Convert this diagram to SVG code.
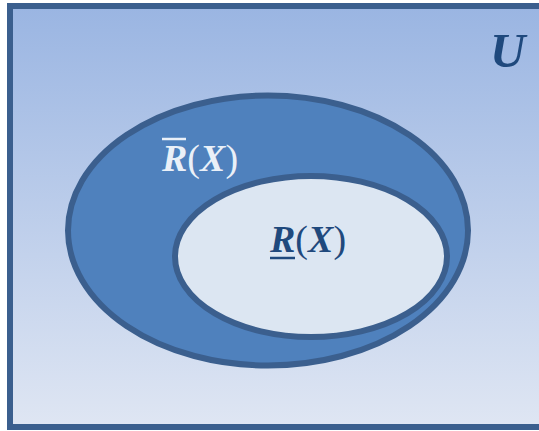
<svg xmlns="http://www.w3.org/2000/svg" width="539" height="431" viewBox="0 0 539 431">
  <defs>
    <linearGradient id="bg" x1="0" y1="0" x2="0" y2="1">
      <stop offset="0" stop-color="#9ab5e2"/>
      <stop offset="1" stop-color="#dfe6f3"/>
    </linearGradient>
  </defs>
  <style>
    .edge { stroke: #3b5f8e; stroke-width: 6; }
    .lbl { font-family: "Liberation Serif", "Times New Roman", serif; font-size: 38px; }
    .v { font-weight: bold; font-style: italic; }
  </style>
  <g id="universe">
    <rect x="10" y="6" width="540" height="421" fill="url(#bg)" class="edge"/>
    <text x="490" y="67" font-family="Liberation Serif, serif" font-weight="bold" font-style="italic" font-size="49" fill="#1f497d">U</text>
  </g>
  <g id="upper">
    <ellipse cx="268" cy="230.5" rx="200" ry="135" fill="#4f81bd" class="edge"/>
    <text x="162" y="171" class="lbl" fill="#eaf0f8"><tspan class="v">R</tspan>(<tspan class="v">X</tspan>)</text>
    <line x1="162" y1="139" x2="186" y2="139" stroke="#eaf0f8" stroke-width="2.5"/>
  </g>
  <g id="lower">
    <ellipse cx="311" cy="256.5" rx="136" ry="80.5" fill="#dce6f2" class="edge"/>
    <text x="270" y="252" class="lbl" fill="#1f497d"><tspan class="v">R</tspan>(<tspan class="v">X</tspan>)</text>
    <line x1="270" y1="258" x2="295" y2="258" stroke="#1f497d" stroke-width="2.5"/>
  </g>
  <g id="connectors"/>
</svg>
